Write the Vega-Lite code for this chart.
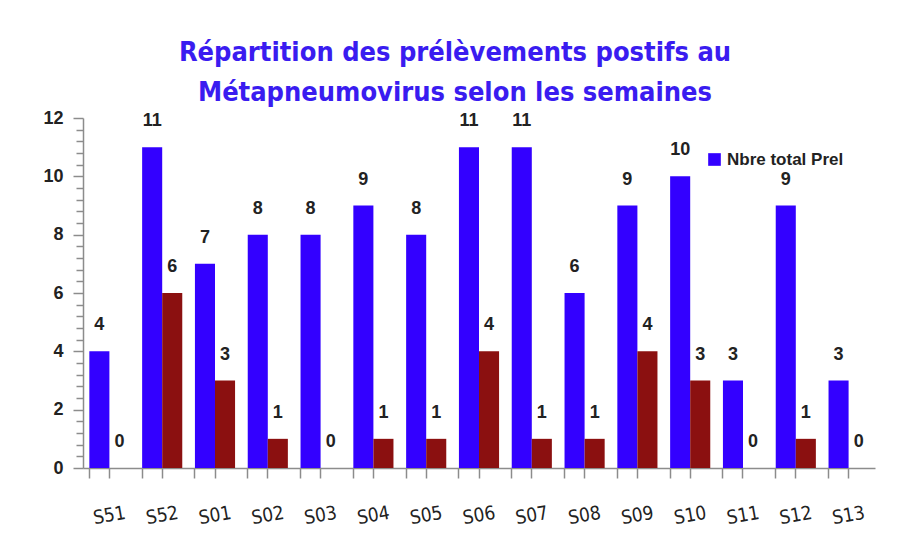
{
  "$schema": "https://vega.github.io/schema/vega-lite/v6.json",
  "width": 792,
  "height": 350,
  "autosize": {"type": "none"},
  "padding": {"left": 83, "top": 118, "right": 23, "bottom": 81},
  "background": "white",
  "title": {
    "text": ["Répartition des prélèvements postifs au", "Métapneumovirus selon les semaines"],
    "font": "DejaVu Sans Condensed",
    "fontSize": 27,
    "fontWeight": "bold",
    "color": "#3a1cf0",
    "anchor": "middle",
    "dx": -24,
    "offset": 2,
    "lineHeight": 40
  },
  "data": {
    "values": [
      {"week": "S51", "series": "Nbre total Prel", "value": 4},
      {"week": "S51", "series": "Nbre positifs", "value": 0},
      {"week": "S52", "series": "Nbre total Prel", "value": 11},
      {"week": "S52", "series": "Nbre positifs", "value": 6},
      {"week": "S01", "series": "Nbre total Prel", "value": 7},
      {"week": "S01", "series": "Nbre positifs", "value": 3},
      {"week": "S02", "series": "Nbre total Prel", "value": 8},
      {"week": "S02", "series": "Nbre positifs", "value": 1},
      {"week": "S03", "series": "Nbre total Prel", "value": 8},
      {"week": "S03", "series": "Nbre positifs", "value": 0},
      {"week": "S04", "series": "Nbre total Prel", "value": 9},
      {"week": "S04", "series": "Nbre positifs", "value": 1},
      {"week": "S05", "series": "Nbre total Prel", "value": 8},
      {"week": "S05", "series": "Nbre positifs", "value": 1},
      {"week": "S06", "series": "Nbre total Prel", "value": 11},
      {"week": "S06", "series": "Nbre positifs", "value": 4},
      {"week": "S07", "series": "Nbre total Prel", "value": 11},
      {"week": "S07", "series": "Nbre positifs", "value": 1},
      {"week": "S08", "series": "Nbre total Prel", "value": 6},
      {"week": "S08", "series": "Nbre positifs", "value": 1},
      {"week": "S09", "series": "Nbre total Prel", "value": 9},
      {"week": "S09", "series": "Nbre positifs", "value": 4},
      {"week": "S10", "series": "Nbre total Prel", "value": 10},
      {"week": "S10", "series": "Nbre positifs", "value": 3},
      {"week": "S11", "series": "Nbre total Prel", "value": 3},
      {"week": "S11", "series": "Nbre positifs", "value": 0},
      {"week": "S12", "series": "Nbre total Prel", "value": 9},
      {"week": "S12", "series": "Nbre positifs", "value": 1},
      {"week": "S13", "series": "Nbre total Prel", "value": 3},
      {"week": "S13", "series": "Nbre positifs", "value": 0}
    ]
  },
  "encoding": {
    "x": {
      "field": "week",
      "type": "nominal",
      "sort": ["S51","S52","S01","S02","S03","S04","S05","S06","S07","S08","S09","S10","S11","S12","S13"],
      "scale": {"paddingInner": 0.24, "paddingOuter": 0.12}
    },
    "xOffset": {
      "field": "series",
      "type": "nominal",
      "sort": ["Nbre total Prel", "Nbre positifs"]
    },
    "y": {
      "field": "value",
      "type": "quantitative",
      "scale": {"domain": [0, 12], "nice": false}
    }
  },
  "layer": [
    {
      "mark": {"type": "bar"},
      "encoding": {
        "x": {
          "field": "week",
          "type": "nominal",
          "sort": ["S51","S52","S01","S02","S03","S04","S05","S06","S07","S08","S09","S10","S11","S12","S13"],
          "axis": {
            "title": null,
            "orient": "bottom",
            "labelAngle": -10,
            "labelFont": "DejaVu Sans Condensed",
            "labelFontSize": 19,
            "labelColor": "#222222",
            "labelPadding": 37,
            "labelAlign": "center",
            "labelBaseline": "middle",
            "domainColor": "#8c8c8c",
            "domainWidth": 1.5,
            "tickColor": "#8c8c8c",
            "tickWidth": 1.5,
            "tickSize": 10
          }
        },
        "y": {
          "field": "value",
          "type": "quantitative",
          "scale": {"domain": [0, 12], "nice": false},
          "axis": {
            "title": null,
            "orient": "left",
            "values": [0, 2, 4, 6, 8, 10, 12],
            "grid": false,
            "labelFont": "Liberation Sans",
            "labelFontWeight": "bold",
            "labelFontSize": 18,
            "labelColor": "#222222",
            "labelPadding": 10,
            "domainColor": "#8c8c8c",
            "domainWidth": 1.5,
            "tickColor": "#8c8c8c",
            "tickWidth": 1.5,
            "tickSize": 10
          }
        },
        "color": {
          "field": "series",
          "type": "nominal",
          "scale": {"domain": ["Nbre total Prel", "Nbre positifs"], "range": ["#3300ff", "#8b1010"]},
          "legend": {
            "title": null,
            "values": ["Nbre total Prel"],
            "orient": "none",
            "legendX": 623,
            "legendY": 33,
            "symbolType": "square",
            "symbolSize": 160,
            "labelFont": "Liberation Sans",
            "labelFontWeight": "bold",
            "labelFontSize": 17,
            "labelColor": "#222222"
          }
        }
      }
    },
    {
      "mark": {"type": "text", "dy": -26, "font": "Liberation Sans", "fontWeight": "bold", "fontSize": 18, "color": "#222222", "baseline": "middle"},
      "encoding": {
        "x": {
          "field": "week",
          "type": "nominal",
          "sort": ["S51","S52","S01","S02","S03","S04","S05","S06","S07","S08","S09","S10","S11","S12","S13"],
          "axis": {
            "title": null,
            "orient": "bottom",
            "bandPosition": 0,
            "labels": false,
            "domain": false,
            "tickColor": "#8c8c8c",
            "tickWidth": 1.5,
            "tickSize": 10
          }
        },
        "y": {
          "field": "value",
          "type": "quantitative",
          "scale": {"domain": [0, 12], "nice": false},
          "axis": {
            "title": null,
            "orient": "left",
            "values": [0.4, 0.8, 1.2, 1.6, 2.4, 2.8, 3.2, 3.6, 4.4, 4.8, 5.2, 5.6, 6.4, 6.8, 7.2, 7.6, 8.4, 8.8, 9.2, 9.6, 10.4, 10.8, 11.2, 11.6],
            "labels": false,
            "domain": false,
            "grid": false,
            "tickColor": "#8c8c8c",
            "tickWidth": 1.5,
            "tickSize": 7
          }
        },
        "text": {"field": "value", "type": "quantitative"}
      }
    }
  ],
  "resolve": {"axis": {"x": "independent", "y": "independent"}},
  "config": {"view": {"stroke": null}}
}
